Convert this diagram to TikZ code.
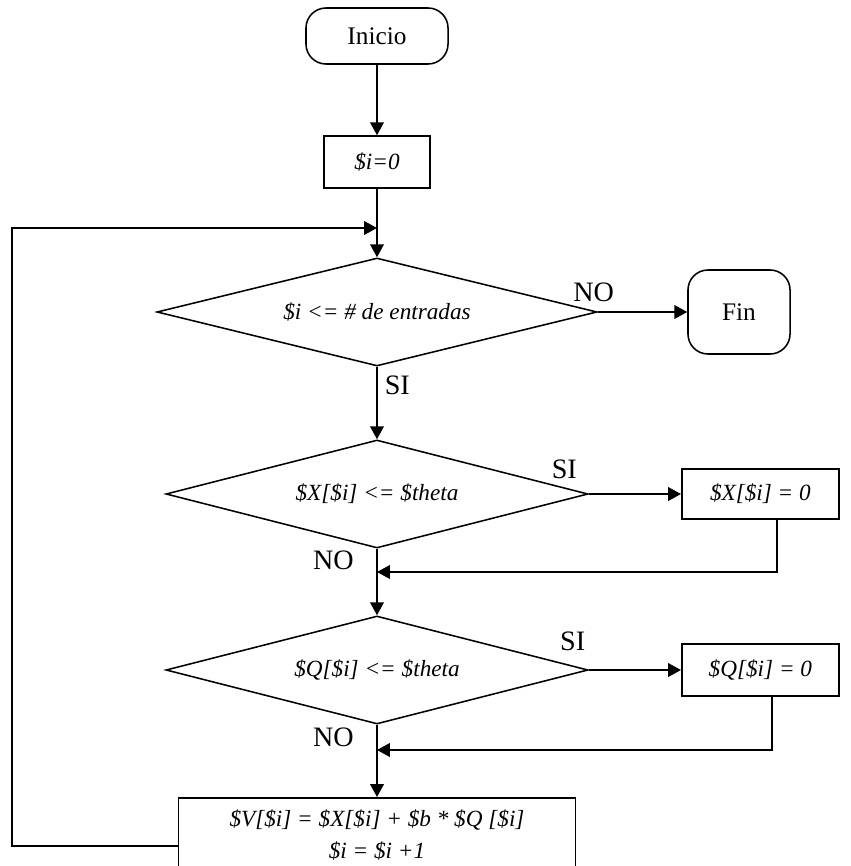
\documentclass[tikz,border=0pt]{standalone}
\usepackage{fontspec}
\setmainfont{Liberation Serif}
\usetikzlibrary{shapes.geometric,arrows.meta,positioning,calc}

\begin{document}
\begin{tikzpicture}[
    x=0.025cm, y=-0.025cm,
    >={Triangle[length=3.2mm, width=3.4mm]},
    line width=1.1pt,
    font=\fontsize{18}{21}\selectfont,
    terminal/.style={draw, rectangle, rounded corners=0.5cm, minimum width=3.55cm, minimum height=1.4cm, align=center},
    process/.style={draw, rectangle, align=center, font=\fontsize{16.5}{22.5}\selectfont\itshape},
    decision/.style={draw, diamond, aspect=4, inner sep=1pt, minimum width=10.55cm, minimum height=2.7cm, font=\fontsize{16.5}{20}\selectfont\itshape},
    lbl/.style={font=\fontsize{20}{22}\selectfont, inner sep=2pt}
]
    \useasboundingbox (0,0) rectangle (850,866);

    \node[terminal] (inicio) at (377,36) {Inicio};
    \node[process, minimum width=2.65cm, minimum height=1.3cm] (init) at (377,162) {\$i=0};
    \node[decision, minimum width=11cm] (cond1) at (377,312) {\$i <= \# de entradas};
    \node[terminal, minimum width=2.55cm, minimum height=2.1cm] (fin) at (739,312) {Fin};
    \node[decision] (cond2) at (377,494) {\$X[\$i] <= \$theta};
    \node[process, anchor=west, minimum width=3.93cm, minimum height=1.25cm] (resetX) at (681,494) {\$X[\$i] = 0};
    \node[decision] (cond3) at (377,670) {\$Q[\$i] <= \$theta};
    \node[process, anchor=west, minimum width=3.93cm, minimum height=1.3cm] (resetQ) at (681,670) {\$Q[\$i] = 0};
    \node[process, anchor=north, minimum width=9.93cm, minimum height=1.85cm] (update) at (377,797)
        {\$V[\$i] = \$X[\$i] + \$b * \$Q [\$i]\\ \$i = \$i +1};

    \coordinate (loopL)  at (12,228);
    \coordinate (retX)   at (777,572);
    \coordinate (retQ)   at (772,750);
    \coordinate (loopOut) at (update.west |- 0,846);

    \draw[->] (inicio) -- (init);
    \draw[->] (init) -- (cond1);
    \draw[->] (cond1.east) -- (fin.west) node[pos=0, lbl, above left, xshift=14pt, yshift=5pt] {NO};
    \draw[->] (cond1.south) -- (cond2.north) node[pos=0.25, lbl, right, xshift=3pt] {SI};

    \draw[->] (cond2.east) -- (resetX.west) node[pos=0, lbl, above left, xshift=-6pt, yshift=8pt] {SI};
    \draw[->] (cond2.south) -- (cond3.north) node[pos=0.17, lbl, left, xshift=-14pt] {NO};
    \draw[->] (resetX.south -| retX) -- (retX) -- (retX -| cond2.south);

    \draw[->] (cond3.east) -- (resetQ.west) node[pos=0, lbl, above left, yshift=11pt] {SI};
    \draw[->] (cond3.south) -- (update.north) node[pos=0.17, lbl, left, xshift=-14pt] {NO};
    \draw[->] (resetQ.south -| retQ) -- (retQ) -- (retQ -| cond3.south);

    \draw[->] (loopOut) -| (loopL) -- (loopL -| init.south);

\end{tikzpicture}
\end{document}
